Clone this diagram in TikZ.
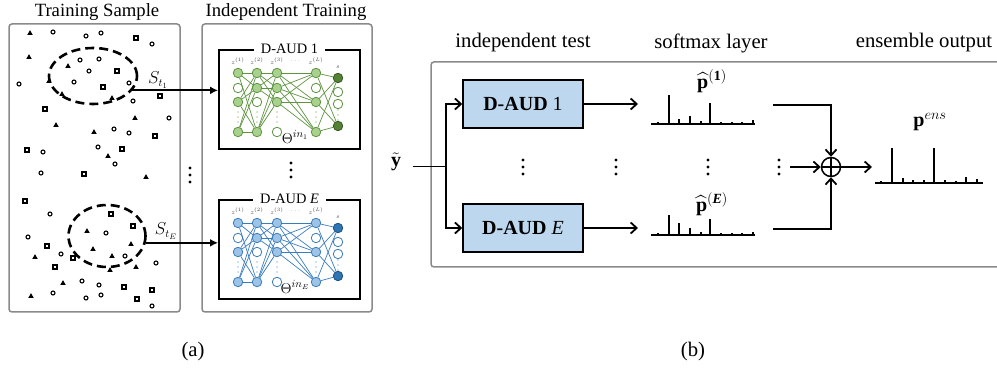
\documentclass[tikz,border=0pt]{standalone}
\usepackage{amsmath}
\usepackage{fontspec}
\setmainfont{Liberation Serif}
\usetikzlibrary{shapes.geometric,arrows.meta}

\newcommand{\fsz}[1]{\fontsize{#1}{#1}\selectfont}

\definecolor{framegray}{HTML}{8A8A8A}
\definecolor{gfill}{HTML}{A9D18E}
\definecolor{gline}{HTML}{5E9440}
\definecolor{gdark}{HTML}{548235}
\definecolor{gdarkline}{HTML}{385723}
\definecolor{bfill}{HTML}{9DC3E6}
\definecolor{bline}{HTML}{3A7DBF}
\definecolor{bdark}{HTML}{2E75B6}
\definecolor{bdarkline}{HTML}{1F4E79}
\definecolor{audfill}{HTML}{BDD7EE}

% small feed-forward network; #1 = node prefix, #2 = index of Theta
\newcommand{\drawnet}[2]{%
  \foreach \c/\r/\x/\y/\s in {
    1/1/20/24/nF, 1/2/20/39/nE, 1/3/20/53/nF, 1/5/20/83/nF,
    2/1/39/24/nF, 2/2/39/39/nF, 2/3/39/53/nE, 2/5/39/83/nF,
    3/1/59/24/nF, 3/2/59/39/nF, 3/3/59/53/nF, 3/5/59/83/nE,
    4/1/98/24/nF, 4/2/98/39/nE, 4/3/98/53/nF, 4/5/98/83/nF,
    5/1/120/29/nD, 5/2/120/43/nE, 5/3/120/55/nE, 5/5/120/77/nD}
    \node[\s] (#1-\c-\r) at (\x,\y) {};
  \foreach \a in {1,3,5} \foreach \b in {1,2,5} \draw[nL] (#1-1-\a) -- (#1-2-\b);
  \foreach \a in {1,2,5} \foreach \b in {1,2,3} \draw[nL] (#1-2-\a) -- (#1-3-\b);
  \foreach \a in {1,2,3} \foreach \b in {1,3,5} \draw[nL] (#1-3-\a) -- (#1-4-\b);
  \foreach \a in {1,3,5} \foreach \b in {1,5} \draw[nL] (#1-4-\a) -- (#1-5-\b);
  \foreach \x/\y in {20/68,39/68,59/68,98/68,120/66}
    \foreach \d in {-5,0,5} \fill[nC] (\x,\y+\d) circle (0.7);
  \node[zlab] (#1-z1) at (20,12) {$z^{(1)}$};
  \node[zlab] (#1-z2) at (39,12) {$z^{(2)}$};
  \node[zlab] (#1-z3) at (59,12) {$z^{(3)}$};
  \node[zlab] (#1-zL) at (98,12) {$z^{(L)}$};
  \node[zlab] (#1-s) at (120,18) {$s$};
  \node[zlab,text=nC] (#1-hd) at (78,12) {$\cdots$};
  \node[inner sep=0] (#1-th) at (77,88) {\fsz{15}$\Theta^{in_{#2}}$};
}

% softmax-like bar chart; #1,#2 = ends of the axis, #3 = axis height, #4 = bars x/h
\newcommand{\barchart}[4]{%
  \draw[line width=2pt] (#1,#3) -- (#2,#3);
  \foreach \bx/\bh in {#4} \draw[line width=2.6pt] (\bx,#3) -- (\bx,#3-\bh);
}

% three stacked dots
\newcommand{\vdotsat}[3]{%
  \foreach \d in {-#3,0,#3} \fill (#1,#2+\d) circle (1.6);
}

\begin{document}
\begin{tikzpicture}[x=1pt,y=-1pt,
  frame/.style={draw=framegray,line width=1.5pt,rounded corners=3pt},
  title/.style={inner sep=0,font=\fsz{18.7}},
  titleb/.style={inner sep=0,font=\fsz{20.7}},
  trbox/.style={draw,line width=2pt,minimum width=141pt,minimum height=99pt,inner sep=0,anchor=north west},
  trtitle/.style={fill=white,inner xsep=7pt,inner ysep=1pt,font=\fsz{14.4}},
  sample/.style={ellipse,draw,line width=2.6pt,dash pattern=on 9pt off 5pt,inner sep=0},
  arrA/.style={line width=2pt,-{Latex[length=8pt,width=8pt]}},
  barb/.style={-{Straight Barb[length=6pt,width=11pt,line width=1.8pt]}},
  arrB/.style={line width=1.8pt,barb},
  thinline/.style={line width=1pt},
  midline/.style={line width=1.4pt},
  audbox/.style={draw,line width=1.5pt,fill=audfill,minimum width=120pt,minimum height=48pt,font=\fsz{20}},
  netnode/.style={circle,minimum size=9.5pt,inner sep=0pt,line width=0.8pt},
  zlab/.style={inner sep=0,font=\fsz{6.5},text=black!75}]
\useasboundingbox (0,0) rectangle (997,371);
\clip (0,0) rectangle (997,371);

% ---------------- (a) ----------------
\node[title] (tsA) at (97,12) {Training Sample};
\node[title] (tsB) at (286,12) {Independent Training};
\draw[frame] (9,24) rectangle (180,312);
\draw[frame] (202,24) rectangle (372,312);

% samples: triangles, circles, squares
\foreach \x/\y in {30/33,29/57,68/66,49/81,62/94,112/98,135/118,56/125,94/132,108/156,146/177,
                   87/231,93/249,112/256,131/244,35/257,110/270,136/267,63/283,31/296}
  \fill (\x,\y-2.8) -- (\x+2.7,\y+1.8) -- (\x-2.7,\y+1.8) -- cycle;
\foreach \x/\y in {53/32,86/36,101/33,152/44,80/60,99/59,89/71,19/84,74/82,129/83,133/101,169/118,
                   114/129,129/133,98/147,43/152,115/164,41/173,
                   50/214,106/233,28/237,61/254,125/256,156/263,82/281,99/285,53/293,86/298,101/295,152/306}
  \draw[line width=1.1pt] (\x,\y) circle (2);
\foreach \x/\y in {136/38,117/71,103/87,160/96,45/109,155/136,27/150,122/149,84/174,25/201,
                   111/214,133/226,47/246,73/258,55/267,124/287,152/290,137/299}
  \draw[line width=1.1pt] (\x-2,\y-2) rectangle (\x+2,\y+2);

\node[sample,minimum width=88pt,minimum height=56pt] (e1) at (93,76) {};
\node[sample,minimum width=77pt,minimum height=62pt] (e2) at (107,236) {};
\node[inner sep=0] (s1) at (158,80) {\fsz{16}$S_{t_1}$};
\node[inner sep=0] (sE) at (166,231) {\fsz{16}$S_{t_E}$};

\node[trbox] (tr1) at (218,49) {};
\node[trtitle] (tr1t) at (tr1.north) {D-AUD 1};
\node[trbox] (trE) at (218,199) {};
\node[trtitle] (trEt) at (trE.north) {D-AUD \textit{E}};

\draw[arrA] (e1.-20) -- (e1.-20 -| tr1.west);
\draw[arrA] (e2.-10) -- (e2.-10 -| trE.west);

\begin{scope}[shift={(218,49)},
  nF/.style={netnode,fill=gfill,draw=gline},
  nE/.style={netnode,fill=white,draw=gline},
  nD/.style={netnode,fill=gdark,draw=gdarkline},
  nL/.style={draw=gline,line width=0.7pt},
  nC/.style={gline}]
  \colorlet{nC}{gline}
  \drawnet{ga}{1}
\end{scope}
\begin{scope}[shift={(218,199)},
  nF/.style={netnode,fill=bfill,draw=bline},
  nE/.style={netnode,fill=white,draw=bline},
  nD/.style={netnode,fill=bdark,draw=bdarkline},
  nL/.style={draw=bline,line width=0.7pt},
  nC/.style={bline}]
  \colorlet{nC}{bline}
  \drawnet{bl}{E}
\end{scope}

\vdotsat{190}{175}{7}
\vdotsat{291}{170}{7}

\node[titleb] (capa) at (193,352) {(a)};

% ---------------- (b) ----------------
\node[titleb] (hb1) at (523,43) {independent test};
\node[titleb] (hb2) at (711,43) {softmax layer};
\node[titleb] (hb3) at (924,43) {ensemble output};
\draw[frame] (431,62) rectangle (1015,267);

\node[audbox] (b1) at (523,104) {\textbf{D-AUD} 1};
\node[audbox] (bE) at (523,228) {\textbf{D-AUD} \textit{E}};

\node[inner sep=0] (yt) at (396,162) {\fsz{20}$\tilde{\mathbf{y}}$};
\coordinate (yin) at (413,167);
\coordinate (split) at (446,167);
\draw[thinline] (yin) -- (split);
\draw[arrB] (split) |- (b1.west);
\draw[arrB] (split) |- (bE.west);

\coordinate (p1in) at (638,104);
\coordinate (pEin) at (638,228);
\draw[arrB] (b1.east) -- (p1in);
\draw[arrB] (bE.east) -- (pEin);

\vdotsat{523}{167}{7}
\vdotsat{616}{167}{7}
\vdotsat{708}{167}{7}
\vdotsat{779}{167}{7}

\node[inner sep=0] (ph1) at (712,81) {\fsz{20}$\widehat{\mathbf{p}}^{(\mathbf{1})}$};
\barchart{651}{755}{124}{658/2,669/29,679/5,690/8,701/3,710/21,721/2,732/2,742/2,753/4}
\node[inner sep=0] (phE) at (712,204) {\fsz{20}$\widehat{\mathbf{p}}^{(\textbf{\textit{E}})}$};
\barchart{651}{755}{235}{658/2,669/20,679/12,690/7,701/3,710/16,721/2,732/2,742/2,753/3}

\node[circle,draw,line width=1.5pt,minimum size=19pt,inner sep=0] (sum) at (831,167) {};
\draw[line width=1.2pt] (sum.north) -- (sum.south) (sum.west) -- (sum.east);
\coordinate (c1) at (773,105);
\coordinate (cE) at (773,229);
\coordinate (cm) at (790,167);
\coordinate (out) at (872,167);
\draw[midline,barb] (c1) -| (sum.north);
\draw[midline,barb] (cE) -| (sum.south);
\draw[arrB] (cm) -- (sum.west);
\draw[arrB] (sum.east) -- (out);

\node[inner sep=0] (pens) at (930,122) {\fsz{20}$\mathbf{p}^{ens}$};
\barchart{875}{983}{183}{881/2,892/35,903/5,913/3,924/3,934/35,945/3,956/2,966/6,977/4}

\node[titleb] (capb) at (693,352) {(b)};
\end{tikzpicture}
\end{document}
